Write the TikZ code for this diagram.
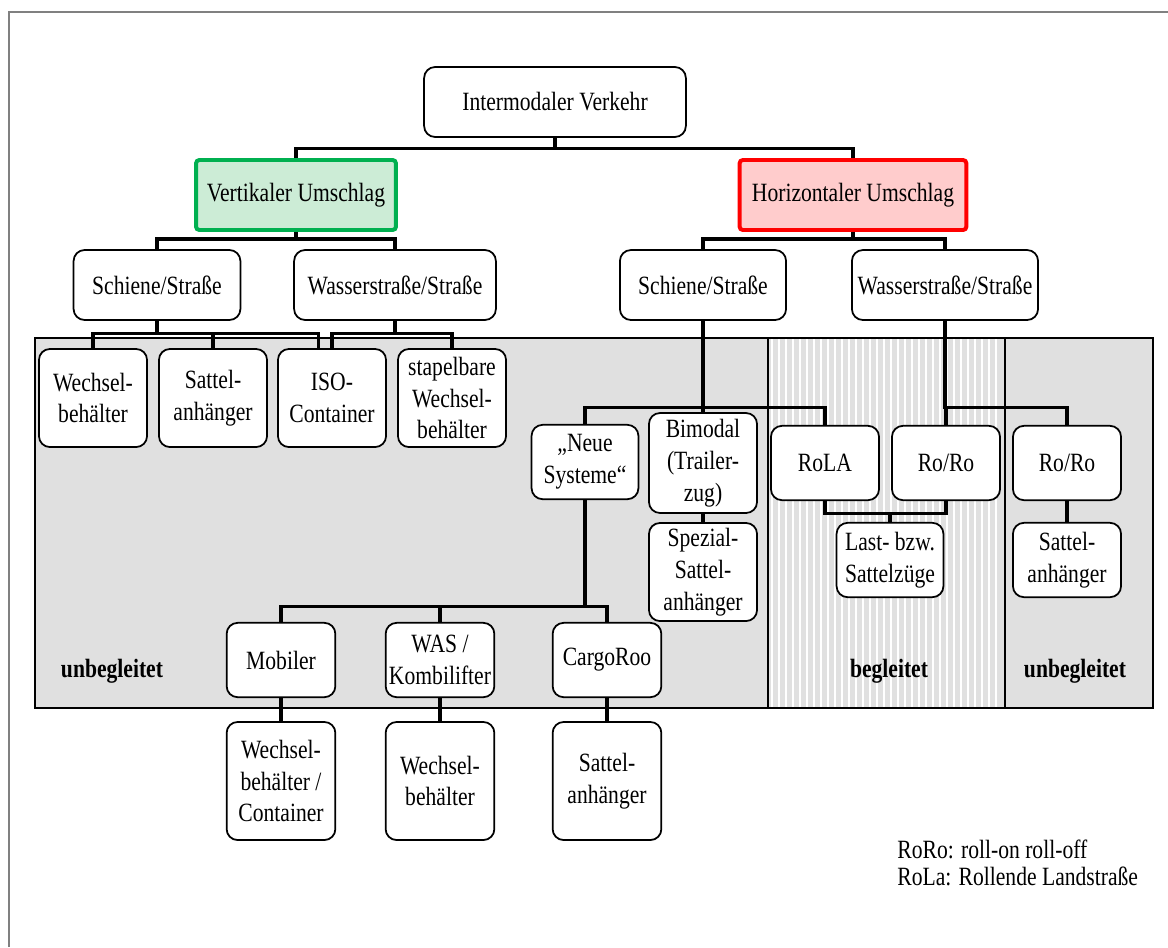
\documentclass[tikz,border=0pt]{standalone}
\usepackage{fontspec}
\setmainfont{Liberation Serif}[FakeStretch=0.82]
\definecolor{vgreen}{RGB}{0,176,80}
\definecolor{vgreenfill}{RGB}{204,236,214}
\definecolor{hred}{RGB}{255,0,0}
\definecolor{hredfill}{RGB}{255,204,204}

\begin{document}
\begin{tikzpicture}[x=0.016cm, y=-0.016cm,
    box/.style={draw, line width=0.8pt, rounded corners=5pt, fill=white, align=center,
                inner sep=1pt, font=\fontsize{12}{14.5}\selectfont},
    head/.style={box, minimum height=1.12cm},
    umschlag/.style={draw, line width=1.8pt, rounded corners=1.5pt, align=center,
                minimum height=1.12cm, font=\fontsize{12}{14.5}\selectfont},
    sys/.style={box, minimum width=1.73cm, minimum height=1.19cm},
    tall/.style={box, minimum width=1.73cm, minimum height=1.57cm},
    conn/.style={line width=1.4pt},
    tag/.style={font=\fontsize{12}{14.5}\selectfont\bfseries, anchor=base},
    legend/.style={font=\fontsize{12}{14.5}\selectfont, anchor=base west, inner sep=0pt}]

    \useasboundingbox (0,0) rectangle (1168,947);
    \draw[gray, line width=1pt] (9,947) -- (9,12) -- (1168,12);

    % Bereiche
    \fill[black!12] (35,338) rectangle (1153,708);
    \foreach \x in {772,779,...,1002}
        \draw[white, line width=1.3pt] (\x,339) -- (\x,707);
    \draw[line width=0.8pt] (35,338) rectangle (1153,708);
    \draw[line width=0.8pt] (768,338) -- (768,708) (1005,338) -- (1005,708);

    \node [tag] (unb1) at (112,677) {unbegleitet};
    \node [tag] (beg) at (889,677) {begleitet};
    \node [tag] (unb2) at (1075,677) {unbegleitet};

    \node [head, minimum width=4.19cm] (root) at (555,102) {Intermodaler Verkehr};
    \node [umschlag, draw=vgreen, fill=vgreenfill, minimum width=3.2cm] (vert) at (296,195) {Vertikaler Umschlag};
    \node [umschlag, draw=hred, fill=hredfill, minimum width=3.63cm] (horz) at (853,195) {Horizontaler Umschlag};

    \node [head, minimum width=2.67cm] (ssl) at (157,285) {Schiene/Straße};
    \node [head, minimum width=3.23cm] (wsl) at (395,285) {Wasserstraße/Straße};
    \node [head, minimum width=2.66cm] (ssr) at (703,285) {Schiene/Straße};
    \node [head, minimum width=2.98cm] (wsr) at (945,285) {Wasserstraße/Straße};

    \node [tall] (wbl) at (93,398) {Wechsel-\\behälter};
    \node [tall] (sal) at (213,398) {Sattel-\\anhänger};
    \node [tall] (iso) at (332,398) {ISO-\\Container};
    \node [tall] (swb) at (452,398) {stapelbare\\Wechsel-\\behälter};

    \node [sys, minimum width=1.71cm] (neue) at (585,462) {„Neue\\Systeme“};
    \node [box, minimum width=1.73cm, minimum height=1.6cm] (bim) at (703,463) {Bimodal\\(Trailer-\\zug)};
    \node [tall] (spz) at (703,572) {Spezial-\\Sattel-\\anhänger};
    \node [sys] (rola) at (825,463) {RoLA};
    \node [sys] (roro) at (946,463) {Ro/Ro};
    \node [sys] (ror2) at (1067,463) {Ro/Ro};
    \node [sys, minimum width=1.71cm] (last) at (890,560) {Last- bzw.\\Sattelzüge};
    \node [sys] (sar) at (1067,560) {Sattel-\\anhänger};

    \node [sys, minimum width=1.74cm] (mob) at (281,660) {Mobiler};
    \node [sys, minimum width=1.74cm] (was) at (440,660) {WAS /\\Kombilifter};
    \node [sys, minimum width=1.74cm] (cargo) at (607,660) {CargoRoo};
    \node [box, minimum width=1.74cm, minimum height=1.89cm] (wbc) at (281,781) {Wechsel-\\behälter /\\Container};
    \node [box, minimum width=1.74cm, minimum height=1.89cm] (wbw) at (440,781) {Wechsel-\\behälter};
    \node [box, minimum width=1.74cm, minimum height=1.89cm] (sac) at (607,781) {Sattel-\\anhänger};

    \node [legend] (leg1) at (897,858) {RoRo: roll-on roll-off};
    \node [legend] (leg2) at (897,885) {RoLa: Rollende Landstraße};

    % Verbindungen
    \draw[conn] (root.south) -- ++(0,11) -| (vert.north);
    \draw[conn] (root.south) -- ++(0,11) -| (horz.north);
    \draw[conn] (vert.south) -- ++(0,7) -| (ssl.north);
    \draw[conn] (vert.south) -- ++(0,7) -| (wsl.north);
    \draw[conn] (horz.south) -- ++(0,7) -| (ssr.north);
    \draw[conn] (horz.south) -- ++(0,7) -| (wsr.north);

    \draw[conn] (ssl.south) -- ++(0,13) -| (wbl.north);
    \draw[conn] (ssl.south) -- ++(0,13) -| (sal.north);
    \draw[conn] (ssl.south) -- ++(0,13) -| (iso.105);
    \draw[conn] (wsl.south) -- ++(0,13) -| (iso.north);
    \draw[conn] (wsl.south) -- ++(0,13) -| (swb.north);

    \draw[conn] (ssr.south) -- (bim.north);
    \draw[conn] (ssr.south) -- ++(0,87) -| (neue.north);
    \draw[conn] (ssr.south) -- ++(0,87) -| (rola.north);
    \draw[conn] (wsr.south) -- ++(0,87) -| (roro.north);
    \draw[conn] (wsr.south) -- ++(0,87) -| (ror2.north);

    \draw[conn] (bim.south) -- (spz.north);
    \draw[conn] (rola.south) -- ++(0,12) coordinate (rb) -| (roro.south);
    \draw[conn] (last.north) -- (last.north |- rb);
    \draw[conn] (ror2.south) -- (sar.north);

    \draw[conn] (neue.south) -- ++(0,106) -| (mob.north);
    \draw[conn] (neue.south) -- ++(0,106) -| (was.north);
    \draw[conn] (neue.south) -- ++(0,106) -| (cargo.north);
    \draw[conn] (mob.south) -- (wbc.north);
    \draw[conn] (was.south) -- (wbw.north);
    \draw[conn] (cargo.south) -- (sac.north);
\end{tikzpicture}
\end{document}
